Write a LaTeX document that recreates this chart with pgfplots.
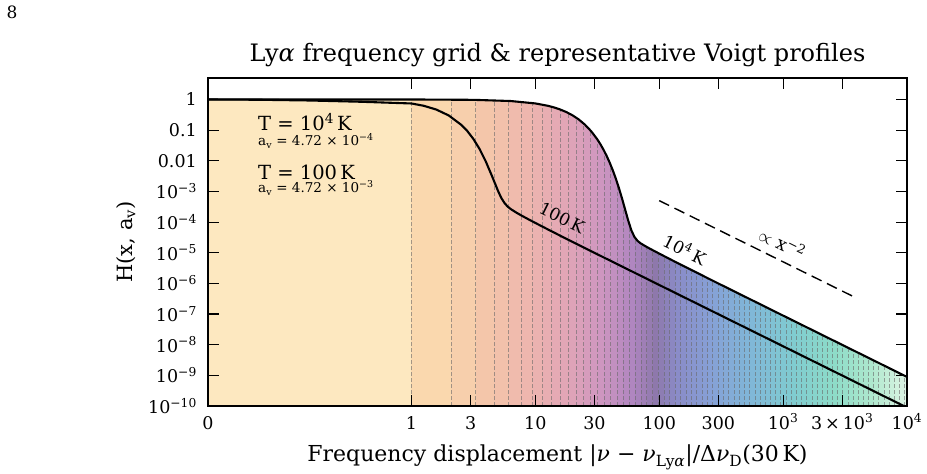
\documentclass[border=0pt]{standalone}
\usepackage{pgfplots}
\pgfplotsset{compat=1.18}
\usepackage{pgfplotstable}
\usepackage{fontspec}
\setmainfont{DejaVu Serif}

\newcommand\fs[1]{\fontsize{#1}{#1}\selectfont}
\newcommand\up[1]{\textsuperscript{#1}}

% colour stops of the frequency bins, at bin numbers 0 ... 72
% (bin 0 = [0,1], bin 72 = last bin below 10^4)
\definecolor{s0}{RGB}{253,232,192}
\definecolor{s1}{RGB}{250,216,174}
\definecolor{s3}{RGB}{244,198,170}
\definecolor{s6}{RGB}{238,182,174}
\definecolor{s10}{RGB}{226,166,182}
\definecolor{s15}{RGB}{206,150,192}
\definecolor{s20}{RGB}{176,134,192}
\definecolor{s24}{RGB}{142,120,172}
\definecolor{s28}{RGB}{138,140,200}
\definecolor{s34}{RGB}{134,160,214}
\definecolor{s42}{RGB}{128,184,216}
\definecolor{s50}{RGB}{128,204,208}
\definecolor{s58}{RGB}{142,220,200}
\definecolor{s65}{RGB}{174,232,206}
\definecolor{s72}{RGB}{222,244,228}
% linear blend between neighbouring stops
\foreach \pa/\pb in {0/1,1/3,3/6,6/10,10/15,15/20,20/24,24/28,28/34,34/42,42/50,50/58,58/65,65/72}{%
  \foreach \i in {\pa,...,\pb}{%
    \pgfmathsetmacro\t{(\i-\pa)/(\pb-\pa)*100}%
    \xglobal\colorlet{bin\i}{s\pb!\t!s\pa}%
  }%
}

% Abscissa v: v = 1.6425 (x - 1) on 0 <= x <= 1, v = log10(x) for x >= 1,
% x in units of the 30 K Doppler width.
% H(x, a_v) for T = 10^4 K
\pgfplotstableread{
v H
-1.6425 1.0
-0.8213 0.9993
0 0.9970
0.5 0.9704
0.8 0.8874
1.0 0.7408
1.1 0.6216
1.15 0.5496
1.2 0.4707
1.25 0.3873
1.3 0.3029
1.35 0.2223
1.4 0.1506
1.45 0.09226
1.5 0.04994
1.525 0.03465
1.55 0.02301
1.575 0.01454
1.6 0.008691
1.625 0.00489
1.65 0.002577
1.675 0.001267
1.7 5.81e-4
1.725 2.53e-4
1.75 1.106e-4
1.775 5.38e-5
1.8 3.26e-5
1.825 2.43e-5
1.85 2.02e-5
1.9 1.533e-5
1.95 1.195e-5
2.0 9.357e-6
2.1 5.787e-6
2.2 3.604e-6
2.5 8.92e-7
3.0 8.877e-8
3.5 8.877e-9
4.0 8.877e-10
}\hotcurve

% region above the 10^4 K profile (left white)
\pgfplotstableread{
v H
-1.6425 1.0
-0.8213 0.9993
0 0.9970
0.5 0.9704
0.8 0.8874
1.0 0.7408
1.1 0.6216
1.15 0.5496
1.2 0.4707
1.25 0.3873
1.3 0.3029
1.35 0.2223
1.4 0.1506
1.45 0.09226
1.5 0.04994
1.525 0.03465
1.55 0.02301
1.575 0.01454
1.6 0.008691
1.625 0.00489
1.65 0.002577
1.675 0.001267
1.7 5.81e-4
1.725 2.53e-4
1.75 1.106e-4
1.775 5.38e-5
1.8 3.26e-5
1.825 2.43e-5
1.85 2.02e-5
1.9 1.533e-5
1.95 1.195e-5
2.0 9.357e-6
2.1 5.787e-6
2.2 3.604e-6
2.5 8.92e-7
3.0 8.877e-8
3.5 8.877e-9
4.0 8.877e-10
4.1 8.877e-10
4.1 10
-1.7 10
-1.7 1.0
}\blankabove

% H(x, a_v) for T = 100 K
\pgfplotstableread{
v H
-1.6425 0.9947
-1.2319 0.9763
-0.8213 0.9230
-0.4106 0.8400
0 0.7380
0.1 0.6190
0.2 0.4680
0.3 0.3010
0.4 0.1500
0.45 0.0938
0.5 0.0512
0.55 0.02403
0.6 0.009436
0.65 0.00316
0.7 0.001008
0.725 6.12e-4
0.75 4.23e-4
0.775 3.24e-4
0.8 2.675e-4
0.85 1.995e-4
0.9 1.533e-4
0.95 1.195e-4
1.0 9.357e-5
1.1 5.787e-5
1.2 3.604e-5
1.5 8.92e-6
2.0 8.877e-7
3.0 8.877e-9
4.0 8.877e-11
}\coldcurve

% upper edges of the frequency bins (v units); the first bin starts at x = 0
\def\binedges{0,0.3222,0.5198,0.6666,0.7857,0.8874,0.9771,1.0583,1.1329,1.2024,1.2679,1.3301,1.3896,1.4468,1.5021,1.5557,1.6079,1.6590,1.7089,1.7580,1.8062,1.8537,1.9006,1.9469,1.9928,2.0381,2.0831,2.1278,2.1721,2.2162,2.2600,2.3035,2.3469,2.3900,2.4330,2.4759,2.5186,2.5612,2.6036,2.6460,2.6883,2.7305,2.7726,2.8147,2.8567,2.8986,2.9405,2.9823,3.0241,3.0659,3.1077,3.1494,3.1910,3.2327,3.2743,3.3159,3.3575,3.3991,3.4406,3.4822,3.5237,3.5652,3.6067,3.6482,3.6896,3.7311,3.7726,3.8141,3.8555,3.8970,3.9384,3.9798,4}

\begin{document}
\begin{tikzpicture}
\useasboundingbox (0pt,0pt) rectangle (927pt,474pt);
\begin{axis}[
  at={(208pt,68pt)}, anchor=south west,
  scale only axis, width=699pt, height=328pt,
  xmin=-1.6425, xmax=4,
  ymode=log, ymin=1e-10, ymax=5,
  axis on top,
  axis line style={line width=1.2pt},
  every tick/.style={black, line width=1.1pt},
  major tick length=11pt,
  tick align=inside,
  yminorticks=false, xminorticks=false,
  xtick={-1.6425,0,0.47712,1,1.47712,2,2.47712,3,3.47712,4},
  xticklabels={0,1,3,10,30,100,300,10\up{3},3\,×\,10\up{3},10\up{4}},
  ytick={1,0.1,0.01,1e-3,1e-4,1e-5,1e-6,1e-7,1e-8,1e-9,1e-10},
  yticklabels={1,0.1,0.01,10\up{−3},10\up{−4},10\up{−5},10\up{−6},10\up{−7},10\up{−8},10\up{−9},10\up{−10}},
  tick label style={font=\fs{17.5}},
  xticklabel style={anchor=base, yshift=-23pt},
  yticklabel style={anchor=east, inner sep=0pt, xshift=-11pt},
  clip=true,
]
  % coloured frequency bins
  \foreach \b [remember=\b as \a (initially -1.6425), count=\i from 0] in \binedges {
    \edef\tmp{\noexpand\addplot[draw=none, fill=bin\i]
      coordinates {(\a,1e-10) (\a,5) (\b,5) (\b,1e-10)};}
    \tmp
  }
  % bin boundaries
  \foreach \b in \binedges {
    \edef\tmp{\noexpand\addplot[draw={rgb,255:red,105;green,105;blue,105}, opacity=0.6,
      line width=0.9pt, dash pattern=on 4pt off 2pt]
      coordinates {(\b,1e-10) (\b,5)};}
    \tmp
  }
  % nothing is drawn above the 10^4 K profile
  \addplot[fill=white, draw=none] table[x=v, y=H] {\blankabove};
  % profiles
  \addplot[black, line width=2.1pt, line join=round] table[x=v, y=H] {\hotcurve};
  \addplot[black, line width=2.1pt, line join=round] table[x=v, y=H] {\coldcurve};
  % x^-2 guide
  \addplot[black, line width=1.4pt, dash pattern=on 11pt off 6pt] coordinates {(2,5e-4) (3.58,3.5e-7)};
\end{axis}

\node[font=\fs{17}] at (12pt,462pt) {8};
\node[font=\fs{24}, anchor=base] at (557.5pt,412pt) {Ly\textit{α} frequency grid \& representative Voigt profiles};
\node[font=\fs{22}, anchor=base] at (557.5pt,12pt) {Frequency displacement |\textit{ν} − \textit{ν}\textsubscript{Ly\textit{α}}|/Δ\textit{ν}\textsubscript{D}(30\,K)};
\node[font=\fs{21}, rotate=90] at (126pt,232pt) {H(x, a\textsubscript{v})};

\node[font=\fs{19.5}, anchor=base west, inner sep=0pt] at (258pt,343pt) {T = 10\up{4}\,K};
\node[font=\fs{13.5}, anchor=base west, inner sep=0pt] at (258pt,328pt) {a\textsubscript{v} = 4.72 × 10\up{−4}};
\node[font=\fs{19.5}, anchor=base west, inner sep=0pt] at (258pt,294pt) {T = 100\,K};
\node[font=\fs{13.5}, anchor=base west, inner sep=0pt] at (258pt,281pt) {a\textsubscript{v} = 4.72 × 10\up{−3}};

\node[font=\fs{17}, rotate=-26.3] at (562pt,256pt) {100\,K};
\node[font=\fs{17}, rotate=-26.3] at (685pt,225pt) {10\up{4}\,K};
\node[font=\fs{18}, rotate=-26.3] at (782.5pt,231pt) {$\propto$ x\up{−2}};
\end{tikzpicture}
\end{document}
